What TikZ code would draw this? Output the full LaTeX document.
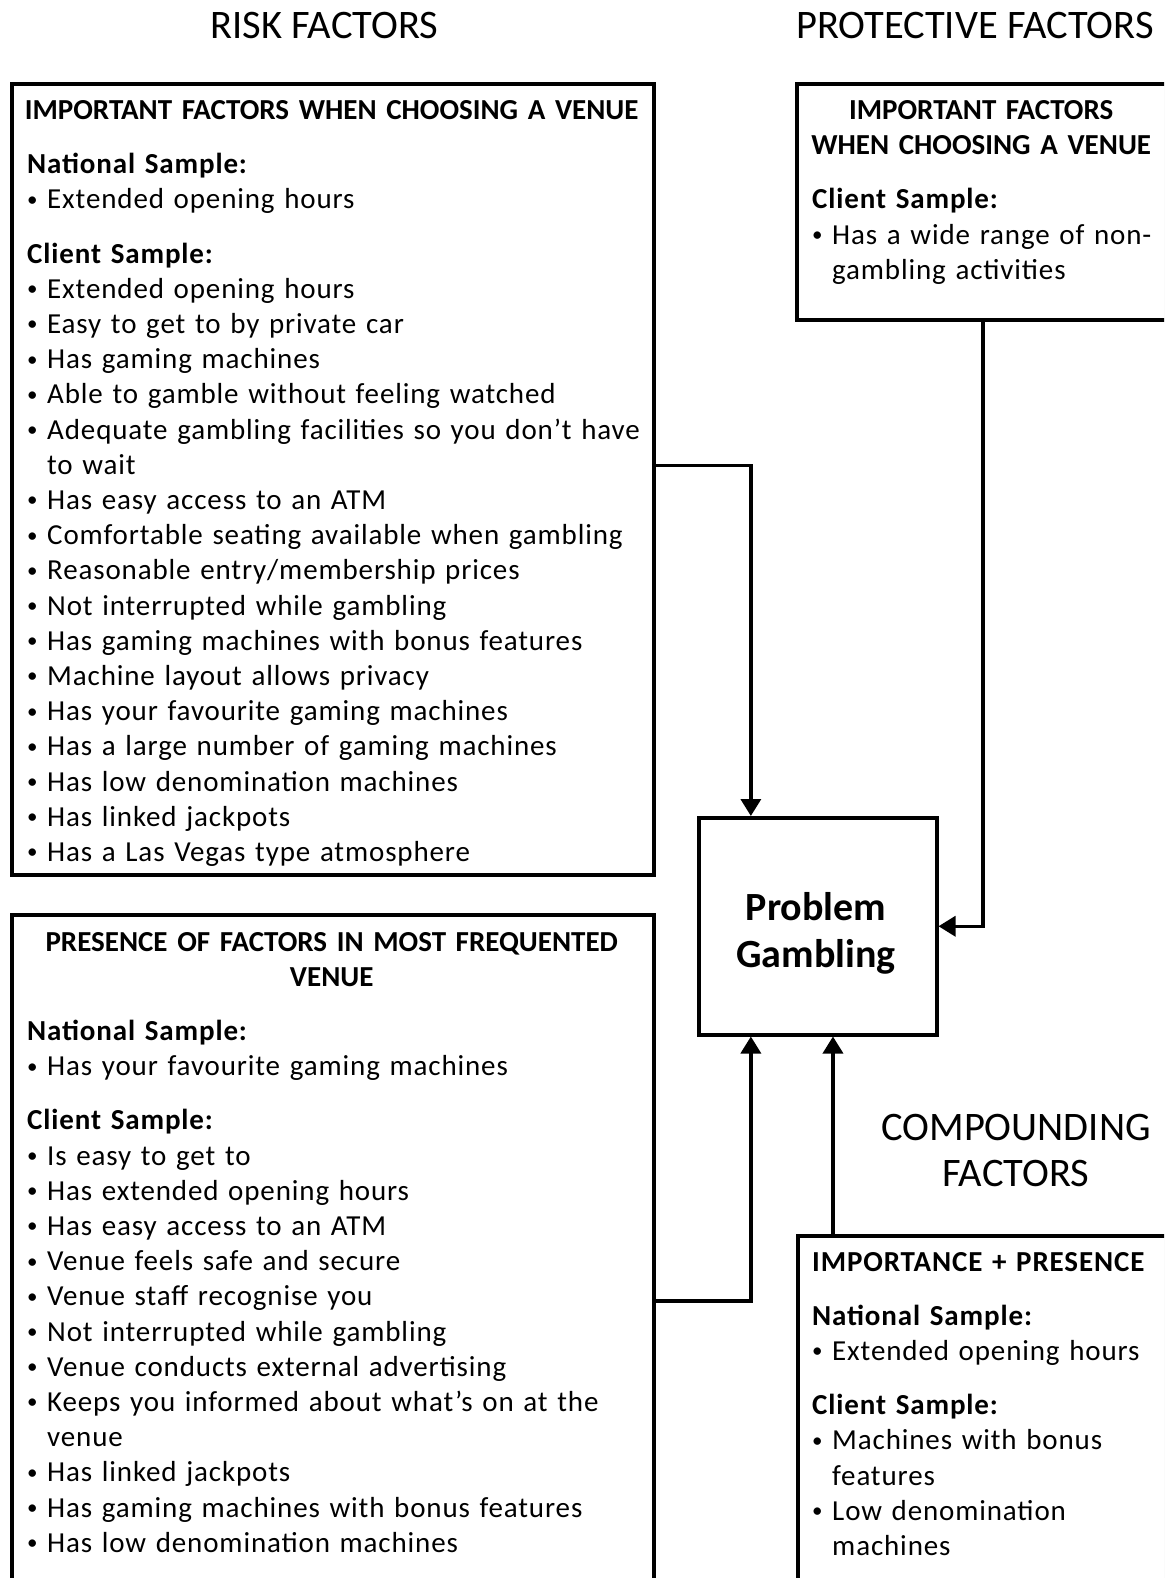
\documentclass[tikz,border=0pt]{standalone}
\usepackage{fontspec}
\setmainfont{Carlito}[LetterSpace=3]
\newfontfamily\headfont{Carlito}
\usetikzlibrary{calc,arrows.meta,shadows}

% list macros for the box texts
\newcommand\boxhead[2][\linewidth]{\makebox[#1][c]{\headfont\bfseries #2}\par}
\newcommand\sample[1]{\par\vspace{19pt}{\bfseries #1}\par}
\newcommand\dotmark{\raisebox{2.5pt}{\fontsize{21}{21}\selectfont\textbullet}}
\newcommand\itm[1]{\hangindent=20pt\hangafter=1\noindent\makebox[20pt][l]{\dotmark}#1\par}

\tikzset{
  panel/.style={draw, line width=3.5pt, fill=white, anchor=north west, inner sep=0pt,
    drop shadow={shadow xshift=2pt, shadow yshift=-2pt, opacity=0.25}},
  listtext/.style={anchor=base west, inner sep=0pt, align=left,
    font=\fontsize{29}{35.2}\selectfont\setlength\parskip{0pt}},
  title/.style={font=\headfont\fontsize{40.5}{45.3}\selectfont, align=center},
  link/.style={line width=3.5pt, -{Triangle[width=20pt,length=17pt]}},
}

\begin{document}
\begin{tikzpicture}[x=1pt,y=-1pt]
\clip (0,0) rectangle (1164,1578);

%Titles
\node[title] (risktitle) at (324.5,25.5) {RISK FACTORS};
\node[title] (prottitle) at (975,25.5) {PROTECTIVE FACTORS};
\node[title] (comptitle) at (1016,1150.5) {COMPOUNDING\\FACTORS};

%Boxes
\node[panel, minimum width=642pt, minimum height=790.5pt] (risk) at (10,82.5) {};
\node[panel, minimum width=372pt, minimum height=235.5pt] (prot) at (795,82.5) {};
\node[panel, minimum width=642pt, minimum height=700pt] (pres) at (10,913) {};
\node[panel, minimum width=380pt, minimum height=400pt] (comp) at (796,1234) {};
\node[panel, minimum width=238pt, minimum height=217pt] (pg) at (697,816) {};
\node[anchor=base, inner sep=0pt, text width=238pt, align=center,
  font=\headfont\fontsize{40}{47}\selectfont\bfseries] (pgtxt) at (816,920) {Problem\\Gambling};

%Box texts
\node[listtext, text width=609pt] (risktxt) at (27,119.5) {%
\boxhead{IMPORTANT FACTORS WHEN CHOOSING A VENUE}
\sample{National Sample:}
\itm{Extended opening hours}
\sample{Client Sample:}
\itm{Extended opening hours}
\itm{Easy to get to by private car}
\itm{Has gaming machines}
\itm{Able to gamble without feeling watched}
\itm{Adequate gambling facilities so you don’t have\newline to wait}
\itm{Has easy access to an ATM}
\itm{Comfortable seating available when gambling}
\itm{Reasonable entry/membership prices}
\itm{Not interrupted while gambling}
\itm{Has gaming machines with bonus features}
\itm{Machine layout allows privacy}
\itm{Has your favourite gaming machines}
\itm{Has a large number of gaming machines}
\itm{Has low denomination machines}
\itm{Has linked jackpots}
\itm{Has a Las Vegas type atmosphere}};

\node[listtext, text width=380pt] (prottxt) at (812,119.5) {%
\boxhead[338pt]{IMPORTANT FACTORS}
\boxhead[338pt]{WHEN CHOOSING A VENUE}
\sample{Client Sample:}
\itm{Has a wide range of non-\newline gambling activities}};

\node[listtext, text width=609pt] (prestxt) at (27,951) {%
\boxhead{PRESENCE OF FACTORS IN MOST FREQUENTED}
\boxhead{VENUE}
\sample{National Sample:}
\itm{Has your favourite gaming machines}
\sample{Client Sample:}
\itm{Is easy to get to}
\itm{Has extended opening hours}
\itm{Has easy access to an ATM}
\itm{Venue feels safe and secure}
\itm{Venue staff recognise you}
\itm{Not interrupted while gambling}
\itm{Venue conducts external advertising}
\itm{Keeps you informed about what’s on at the\newline venue}
\itm{Has linked jackpots}
\itm{Has gaming machines with bonus features}
\itm{Has low denomination machines}};

\node[listtext, text width=345pt] (comptxt) at (812,1271) {%
{\bfseries IMPORTANCE + PRESENCE}\par
\sample{National Sample:}
\itm{Extended opening hours}
\sample{Client Sample:}
\itm{Machines with bonus\newline features}
\itm{Low denomination\newline machines}};

%Arrow ends on the problem gambling box
\coordinate (pgN) at ($(pg.north west)!0.223!(pg.north east)$);
\coordinate (pgS) at ($(pg.south west)!0.223!(pg.south east)$);
\coordinate (pgS2) at ($(pg.south west)!0.563!(pg.south east)$);

%Connectors
\draw[link] ($(risk.north east)!0.4826!(risk.south east)$) -| (pgN);
\draw[link] (prot.south) |- (pg.east);
\draw[link] ($(pres.north east)!0.5517!(pres.south east)$) -| (pgS);
\draw[link] (comp.north -| pgS2) -- (pgS2);
\end{tikzpicture}
\end{document}
